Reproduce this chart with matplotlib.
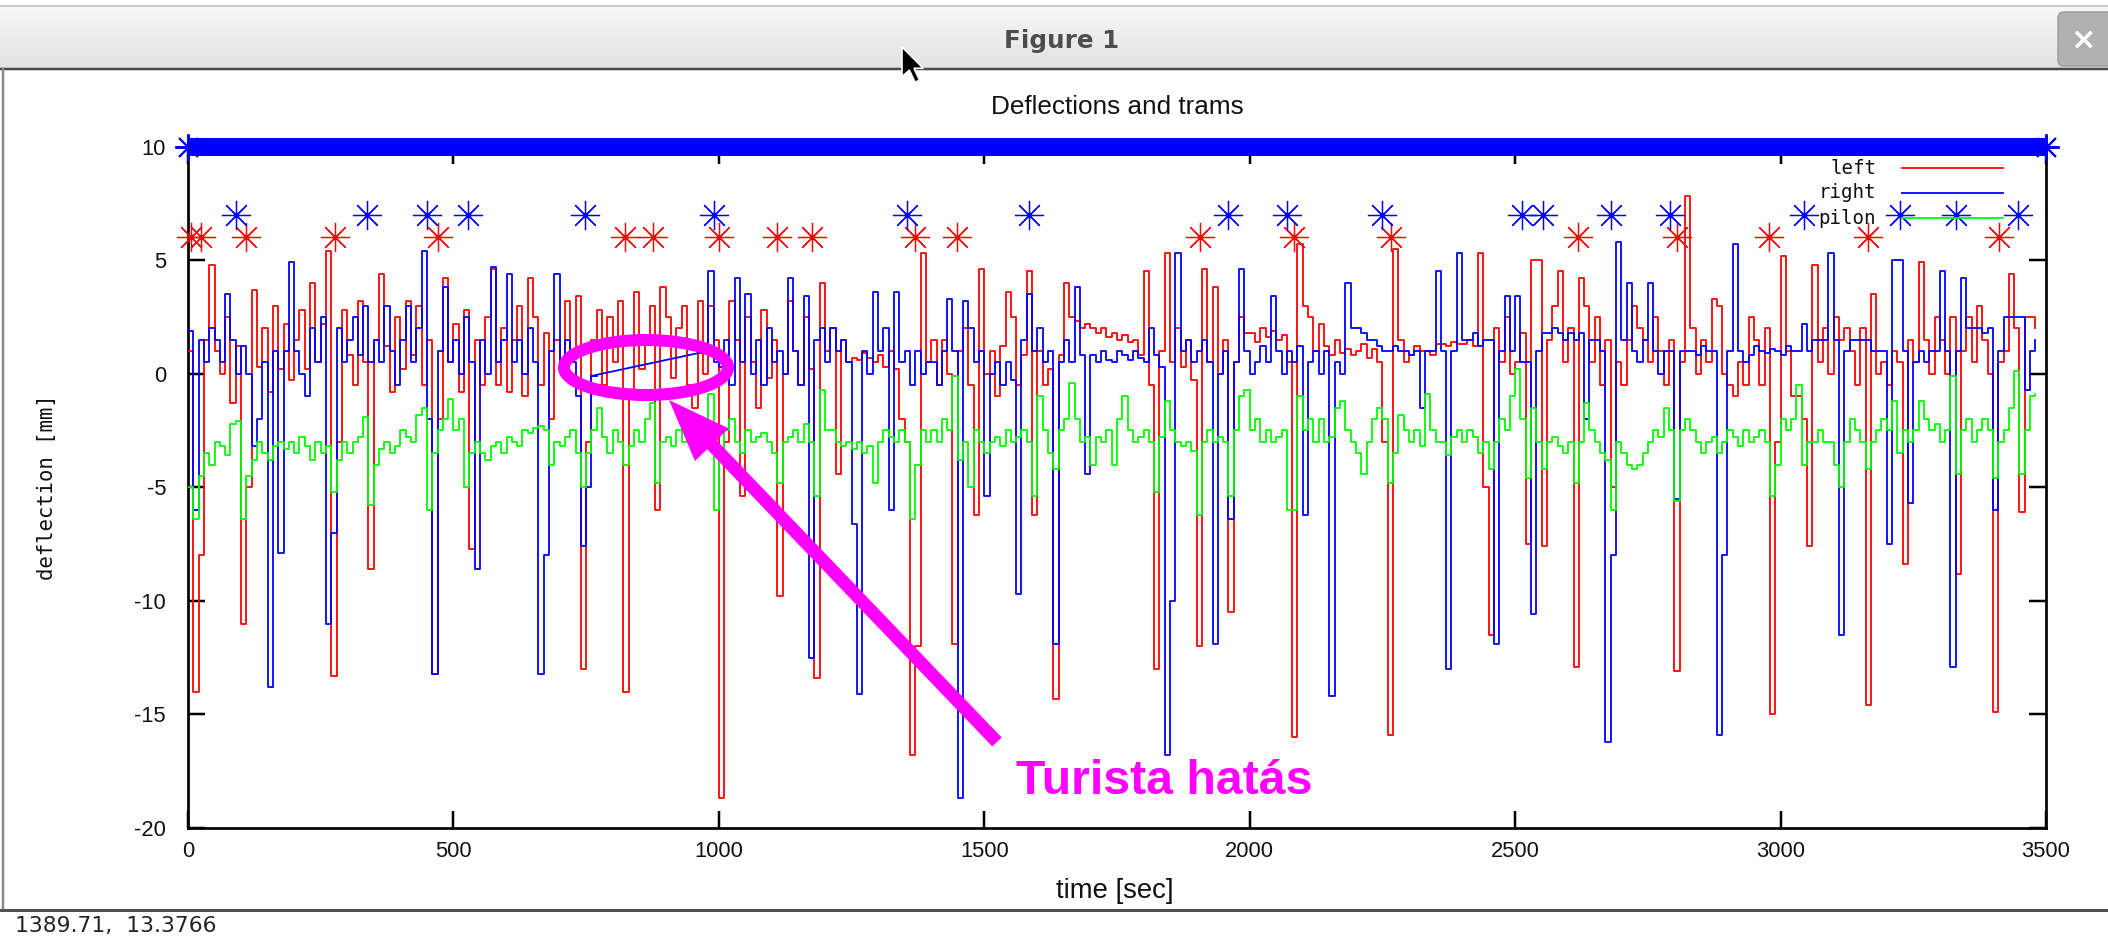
import numpy as np
import matplotlib
matplotlib.use('Agg')
import matplotlib.pyplot as plt
from matplotlib import font_manager
from matplotlib.patches import Ellipse, FancyArrow, Polygon, FancyBboxPatch
from matplotlib.colors import LinearSegmentedColormap

# ---------------- data ----------------
nan = float('nan')
time_s = list(range(0, 3481, 10))

left_mm = [
    1.0, -14.0, -8.0, 1.5, 4.8, 1.0, 0.0, 2.5, -1.3, 1.2,
    -11.0, -5.0, 3.7, 0.3, 2.0, -0.8, 3.0, 0.2, 2.2, -0.3,
    1.5, 2.8, 0.2, 4.0, 0.5, 2.2, 5.4, -13.3, -3.0, 2.8,
    0.8, -0.5, 3.2, 0.5, -8.6, 1.5, 4.4, 1.2, -0.8, 2.5,
    0.2, 3.2, 0.8, 3.0, -0.5, 1.5, -13.2, -2.0, 4.2, 0.5,
    2.2, -0.8, 2.8, -7.7, 1.5, -0.5, 2.5, 4.6, -0.5, 2.0,
    -0.8, 1.5, 3.0, -1.0, 4.2, 2.5, -0.5, 1.8, -2.0, 1.5,
    0.2, 3.2, 1.0, 3.4, -13.0, -3.0, 1.5, 2.8, -0.5, 2.5,
    0.5, 3.2, -14.0, -1.0, 3.6, 0.2, 1.5, 3.0, -6.0, 3.8,
    2.5, -0.2, 2.0, 3.0, -0.5, -1.5, 3.2, 0.0, 3.0, 1.5,
    -18.7, -3.0, 3.2, 1.5, -5.4, 2.5, 0.5, -1.5, 2.8, -0.2,
    1.5, -9.8, 0.0, 3.2, 1.0, -0.5, 2.5, 0.2, -13.4, 4.0,
    1.0, 2.0, -4.4, 1.5, 0.5, 0.7, 0.6, 0.9, 0.7, 0.5,
    0.8, 0.3, 1.0, 0.2, -2.0, -3.0, -16.8, -12.0, 5.3, 0.5,
    1.5, -0.5, 1.5, 0.0, -11.9, 1.0, 2.0, -0.5, -6.2, 4.6,
    0.0, 1.0, -1.0, 1.2, 3.6, 2.5, -0.5, 0.8, 4.5, -6.2,
    1.0, -0.5, 0.2, -14.3, 0.8, 4.0, 2.5, 2.3, 2.0, 2.2,
    2.0, 1.8, 2.0, 1.6, 1.8, 1.5, 1.7, 1.4, 1.5, 0.8,
    4.5, -0.5, -13.0, 1.0, 5.3, 0.5, 2.0, 0.3, 1.5, -0.3,
    -12.0, 4.6, 0.5, 3.8, 0.0, 1.5, -10.5, 0.5, 2.5, 1.8,
    1.8, 1.4, 2.0, 1.6, 1.9, 1.5, 1.7, 0.5, -16.0, 5.7,
    3.0, 2.5, 1.0, 2.2, 1.2, 0.8, 1.5, 0.9, 1.1, 0.8,
    1.0, 1.3, 0.7, 1.1, 0.5, -3.0, -15.9, 5.5, 1.5, 0.5,
    0.8, 1.2, 1.0, 1.0, 0.8, 1.3, 1.3, 1.2, 1.4, 1.3,
    1.3, 1.5, 1.2, 5.3, -5.0, -11.5, 2.0, 0.5, 2.5, 0.0,
    0.5, 1.8, -7.5, 5.0, 5.0, -7.6, 1.5, 3.0, 4.5, 0.5,
    2.0, -12.9, 4.2, 3.0, 0.5, 2.5, -0.5, 1.5, -5.0, 0.5,
    -0.5, 1.5, 3.0, 2.0, 1.5, 0.5, 2.5, 1.0, -0.5, 1.5,
    -13.1, 0.5, 7.8, 2.0, 0.0, 1.5, 0.5, 3.3, 3.0, 0.0,
    -0.5, -1.0, 0.5, -0.5, 2.5, 1.5, -0.5, 2.0, -15.0, -3.0,
    5.2, 1.0, -1.0, -1.0, -2.0, -7.6, 4.8, 0.5, 2.0, 0.0,
    2.5, 1.5, 2.0, 1.0, -0.5, 2.0, -14.6, 3.5, 0.0, 0.5,
    -0.5, 1.0, 0.5, -8.4, 1.5, 0.5, 4.9, 1.5, 0.0, 2.5,
    1.5, 0.0, 2.5, -8.8, 1.0, 2.5, 0.5, 3.0, 1.5, 0.0,
    -14.9, 0.5, 1.0, 4.4, 2.0, -6.1, 2.5, 2.5, 2.0,
]

right_mm = [
    1.9, -6.0, 1.5, 0.5, 2.0, 1.5, 0.5, 3.5, 1.5, 0.0,
    1.2, 0.0, -3.2, -2.0, 0.5, -13.8, 1.0, -7.9, 1.0, 4.9,
    1.0, 0.0, -1.0, 2.0, 0.5, 2.5, -11.0, -7.0, 2.0, 0.5,
    1.5, 2.5, 0.8, 3.0, 0.5, 1.5, 0.5, 3.0, 1.0, -0.5,
    1.5, 3.0, 0.5, 2.0, 5.4, -2.0, -13.2, 1.0, 3.8, 0.5,
    1.5, 0.0, 2.5, 0.5, -8.6, 1.5, 0.0, 4.7, 0.5, 1.5,
    4.4, 0.5, 1.5, 0.0, 2.0, 0.5, -13.2, -8.0, 1.0, 4.4,
    0.5, 1.5, 0.5, -1.0, -7.6, -5.0, -0.1, nan, nan, nan,
    nan, nan, nan, nan, nan, nan, nan, nan, nan, nan,
    nan, nan, nan, nan, nan, nan, 0.9, 1.0, 4.5, 0.5,
    0.3, 1.5, -0.5, 4.2, 0.5, 3.5, 0.0, 1.5, -0.5, 2.0,
    0.5, 1.0, 0.0, 4.2, 1.0, -0.5, 3.4, -12.5, 1.5, 2.0,
    0.5, 2.0, 1.0, 1.5, 0.5, -6.6, -14.1, 1.0, 0.0, 3.6,
    1.0, 2.0, -6.0, 3.6, 0.5, 1.0, -0.5, 1.0, 0.0, 0.5,
    0.5, -0.5, 1.0, 3.3, 1.0, -18.7, 3.2, 2.0, 0.5, 1.0,
    -5.4, 0.0, 0.5, -0.5, 0.5, -0.3, -9.7, 1.5, 3.5, 1.0,
    2.0, 0.5, 1.0, -11.9, 0.5, 1.5, 0.5, 3.8, 0.8, -4.4,
    0.8, 0.5, 1.0, 0.6, 0.5, 1.0, 0.8, 0.6, 1.0, 0.7,
    0.5, 2.0, 0.8, 0.3, -16.8, -10.0, 5.3, 1.0, 1.5, 0.5,
    1.0, 1.5, 0.5, -11.9, 0.0, 1.0, -6.4, 0.5, 4.6, 1.0,
    0.0, 0.5, 1.2, 0.5, 3.4, 1.0, 0.0, 1.0, 0.5, 1.2,
    -6.2, 0.5, 1.0, 0.0, 1.0, -14.2, 0.5, 0.0, 4.0, 2.0,
    2.0, 1.8, 1.5, 1.5, 1.2, 1.0, 1.0, 1.2, 1.0, 1.0,
    0.8, 1.0, -1.5, 1.0, 1.0, 4.5, 1.0, -13.0, 1.0, 5.3,
    1.5, 1.5, 1.8, 1.2, 1.5, 1.5, -11.9, 1.0, 3.4, 1.0,
    3.4, 0.5, 0.5, -10.6, 1.0, 1.8, 1.8, 2.0, 1.8, 1.5,
    1.8, 1.5, 1.8, -2.0, 1.5, 1.5, 1.0, -16.2, -8.0, 5.8,
    1.5, 4.0, 1.0, 0.5, 1.5, 4.0, 1.0, 0.0, 1.0, 1.0,
    -5.5, 1.0, 1.0, 1.0, 0.8, 1.2, 1.0, 1.0, -15.9, -8.0,
    1.0, 5.7, 1.0, 0.5, 0.8, 1.2, 1.0, 0.9, 1.1, 1.0,
    0.8, 1.2, 1.0, 1.0, 2.2, 1.0, 1.5, 1.5, 1.5, 5.3,
    1.5, -11.5, 1.0, 1.5, 1.5, 1.5, 1.5, 1.0, 1.0, 1.0,
    -7.5, 5.0, 5.0, 1.0, -5.7, 0.5, 1.0, 0.5, 1.0, 1.0,
    4.5, 1.0, -12.9, 1.0, 4.2, 2.0, 2.0, 2.0, 1.8, 2.0,
    -6.0, 1.0, 2.5, 2.5, 2.5, 2.5, -0.7, 1.0, 1.5,
]

pilon_mm = [
    -5.0, -6.4, -4.5, -3.5, -4.0, -3.0, -3.2, -3.6, -2.2, -2.1,
    -6.4, -4.5, -3.8, -3.0, -3.5, -3.8, -3.2, -3.0, -3.3, -3.0,
    -3.5, -2.8, -3.2, -3.8, -3.0, -3.5, -3.2, -5.2, -3.8, -3.0,
    -3.5, -3.0, -2.8, -1.9, -5.8, -4.0, -3.3, -3.0, -3.5, -3.2,
    -2.5, -2.8, -3.0, -1.8, -1.5, -6.0, -3.5, -2.5, -2.0, -1.1,
    -2.5, -2.0, -5.0, -3.5, -3.0, -3.5, -3.8, -3.2, -3.0, -3.5,
    -2.8, -3.0, -3.2, -2.5, -2.6, -2.4, -2.3, -2.5, -4.0, -3.0,
    -3.2, -2.8, -2.5, -3.5, -5.0, -3.5, -2.5, -1.5, -2.8, -3.5,
    -2.5, -3.0, -4.0, -3.2, -2.5, -3.0, -2.0, -1.3, -4.8, -3.0,
    -2.8, -3.2, -2.5, -3.0, -2.8, -2.5, -3.0, -2.5, -0.9, -6.0,
    -3.5, -2.5, -2.0, -3.0, -3.5, -2.5, -3.0, -2.8, -2.6, -3.0,
    -3.5, -4.8, -3.0, -2.8, -2.5, -3.0, -2.2, -3.0, -5.4, -0.7,
    -2.5, -2.5, -3.0, -3.2, -3.0, -3.3, -3.0, -3.5, -3.2, -4.8,
    -3.0, -2.5, -2.8, -3.0, -2.5, -3.0, -6.4, -4.0, -2.5, -3.0,
    -2.5, -3.0, -2.0, -2.5, -0.1, -3.8, -3.0, -5.0, -2.5, -3.0,
    -3.5, -3.0, -2.8, -3.2, -2.5, -3.0, -2.8, -2.5, -3.0, -5.4,
    -1.0, -2.5, -3.5, -4.2, -2.5, -2.0, -0.4, -2.0, -3.0, -2.8,
    -4.0, -2.8, -3.0, -2.5, -4.0, -2.0, -1.0, -2.5, -3.0, -2.8,
    -2.5, -3.0, -5.2, -2.8, -1.2, -2.5, -3.0, -3.2, -3.0, -3.4,
    -6.2, -3.0, -2.5, -3.0, -2.8, -3.0, -5.4, -2.5, -1.0, -0.7,
    -2.5, -2.0, -3.0, -2.5, -3.0, -2.8, -2.5, -6.0, -6.0, -1.0,
    -2.5, -2.0, -3.0, -2.0, -3.0, -2.8, -1.5, -1.2, -2.5, -3.0,
    -3.5, -4.4, -3.0, -2.0, -1.5, -2.0, -4.8, -3.5, -1.8, -2.5,
    -3.0, -2.5, -3.2, -0.9, -2.5, -3.0, -3.0, -3.6, -2.8, -2.5,
    -3.0, -2.5, -2.8, -3.5, -3.0, -4.2, -3.0, -2.0, -2.5, -1.0,
    0.2, -2.0, -4.6, -1.5, -3.0, -4.2, -3.0, -2.8, -3.2, -3.5,
    -3.0, -4.8, -3.0, -1.3, -2.5, -3.0, -3.5, -3.8, -6.0, -3.0,
    -3.5, -4.0, -4.2, -4.0, -3.5, -3.0, -2.5, -2.8, -1.5, -2.5,
    -5.6, -2.5, -2.0, -2.5, -3.0, -3.5, -3.0, -2.8, -3.5, -3.0,
    -2.5, -2.8, -3.2, -2.5, -3.0, -2.8, -2.5, -3.0, -5.4, -4.0,
    -2.0, -2.5, -2.0, -0.5, -4.0, -3.0, -3.0, -2.5, -3.0, -3.0,
    -4.0, -5.0, -3.0, -2.0, -2.5, -3.0, -4.2, -3.0, -2.5, -2.0,
    -2.5, -1.2, -3.5, -2.5, -3.0, -2.5, -1.2, -2.0, -2.5, -2.2,
    -3.0, -2.5, -0.1, -4.4, -2.5, -2.0, -3.0, -2.5, -2.0, -2.5,
    -4.6, -3.0, -2.5, -1.5, 0.1, -4.4, -2.5, -1.0, -0.9,
]

# tram passages (stars)
left_tram_t = [5, 25, 109, 276, 471, 823, 876, 1000, 1109, 1176, 1370, 1448,
               1907, 2084, 2267, 2618, 2805, 2979, 3165, 3411]
left_tram_y = [6] * len(left_tram_t)
right_tram_t = [90, 337, 450, 527, 747, 990, 1355, 1584, 1960, 2070, 2250,
                2512, 2552, 2681, 2791, 3044, 3225, 3331, 3448]
right_tram_y = [7] * len(right_tram_t)
band_t = [0, 3500]
band_y = [10, 10]

series_names = ['left', 'right', 'pilon']
series_colors = ['#ff0000', '#0000ff', '#00ff00']
title_text = 'Deflections and trams'
x_label = 'time [sec]'
y_label = 'deflection [mm]'
x_ticks = [0, 500, 1000, 1500, 2000, 2500, 3000, 3500]
y_ticks = [-20, -15, -10, -5, 0, 5, 10]
note_text = 'Turista hatás'
status_text = '1389.71,  13.3766'
window_title = 'Figure 1'

# ---------------- fonts ----------------
names = {f.name for f in font_manager.fontManager.ttflist}
def pick(*cands):
    for c in cands:
        if c in names:
            return c
    return 'DejaVu Sans'
GP = pick('Liberation Sans Narrow', 'Liberation Sans', 'DejaVu Sans')
SANS = pick('Liberation Sans', 'Arial', 'DejaVu Sans')
MONO = pick('DejaVu Sans Mono', 'Liberation Mono')
plt.rcParams['font.family'] = [GP, 'DejaVu Sans']
plt.rcParams['axes.unicode_minus'] = False

W, H, DPI = 2108, 938, 100
PX = 72.0 / DPI
MAG = '#ff00ff'

fig = plt.figure(figsize=(W / DPI, H / DPI), dpi=DPI)
fig.patch.set_facecolor('white')

# ---------------- main axes ----------------
ax_l, ax_r, ax_t, ax_b = 188, 2046, 146.5, 828
ax = fig.add_axes([ax_l / W, 1 - ax_b / H, (ax_r - ax_l) / W, (ax_b - ax_t) / H])
ax.set_xlim(0, 3500)
ax.set_ylim(-20, 10)

t = np.array(time_s, float)
lw = 1.8 * PX
ax.plot(t, left_mm, color=series_colors[0], lw=lw, drawstyle='steps-post', zorder=3)
rv = np.array(right_mm, float)
ax.plot(t, rv, color=series_colors[1], lw=lw, drawstyle='steps-post', zorder=4)
valid = ~np.isnan(rv)
g_start = np.where(valid[:-1] & ~valid[1:])[0]
g_end = np.where(~valid[:-1] & valid[1:])[0] + 1
for a, b in zip(g_start, g_end):
    ax.plot([t[a], t[b]], [rv[a], rv[b]], color=series_colors[1], lw=lw, zorder=4)
ax.plot(t, pilon_mm, color=series_colors[2], lw=lw, drawstyle='steps-post', zorder=5)

star = (8, 2, 0)
for tx, ty, c in [(left_tram_t, left_tram_y, series_colors[0]),
                  (right_tram_t, right_tram_y, series_colors[1])]:
    ax.plot(tx, ty, ls='none', marker=star, ms=21, mew=1.25 * PX, color=c,
            zorder=6, clip_on=False)
    ax.plot(tx, ty, ls='none', marker='o', ms=4, mew=0, color=c, zorder=6,
            clip_on=False)

ax.plot(band_t, band_y, color='#0000ff', lw=18 * PX, solid_capstyle='butt',
        clip_on=False, zorder=7)
ax.plot(band_t, band_y, ls='none', marker=star, ms=19, mew=2 * PX,
        color='#0000ff', clip_on=False, zorder=7)

ax.set_xticks(x_ticks)
ax.set_yticks(y_ticks)
ax.tick_params(direction='in', length=17 * PX, width=2.5 * PX, top=True,
               right=True, labelsize=15, colors='black', labelcolor='#111111')
ax.tick_params(axis='x', pad=13 * PX)
ax.tick_params(axis='y', pad=22 * PX)
for s in ax.spines.values():
    s.set_linewidth(2.7 * PX)
    s.set_zorder(2.6)

ttl = ax.set_title(title_text, y=(ax_b - 107) / (ax_b - ax_t), va='center',
                   pad=0, fontsize=14, color='#111111')
xl = ax.set_xlabel(x_label, fontsize=14, va='center', color='#111111')
ax.xaxis.set_label_coords((1115 - ax_l) / (ax_r - ax_l), (ax_b - 891) / (ax_b - ax_t))
yl = ax.set_ylabel(y_label, fontsize=15, va='center', family=MONO, color='#111111')
ax.yaxis.set_label_coords((47 - ax_l) / (ax_r - ax_l), (ax_b - 487) / (ax_b - ax_t))

# ---------------- overlay in pixel coordinates ----------------
ov = fig.add_axes([0, 0, 1, 1], zorder=10)
ov.set_xlim(0, W)
ov.set_ylim(H, 0)
ov.axis('off')
ov.patch.set_alpha(0)

# title bar
cmap = LinearSegmentedColormap.from_list('tb', ['#f7f7f7', '#e2e2e2'])
ov.imshow(np.linspace(0, 1, 64).reshape(-1, 1), cmap=cmap, aspect='auto',
          extent=[0, W, 69, 6], zorder=0, interpolation='bilinear')
ov.plot([0, W], [6, 6], color='#b8b8b8', lw=1.5 * PX, zorder=1)
ov.plot([0, W], [69.5, 69.5], color='#4a4a4a', lw=2.5 * PX, zorder=1)
ov.plot([2.5, 2.5], [69, 910], color='#8a8a8a', lw=2.5 * PX, zorder=1)
ov.plot([0, W], [910, 910], color='#505050', lw=3 * PX, zorder=1)
ov.add_patch(FancyBboxPatch((2058, 12), 60, 54, boxstyle='round,pad=0,rounding_size=6',
                            fc='#b0b0b0', ec='#9a9a9a', lw=1, zorder=2))
ov.text(2083, 40, '×', color='white', fontsize=22, fontweight='bold',
        ha='center', va='center', family='DejaVu Sans', zorder=3)
wt = ov.text(1062, 41, window_title, color='#4d4d4d', fontsize=16,
             fontweight='bold', ha='center', va='center', family='DejaVu Sans', zorder=3)
# mouse cursor
cur = np.array([(0, 0), (0, 16), (4, 12.5), (7, 19), (9.5, 18), (6.5, 11.5), (11.5, 11.5)])
ov.add_patch(Polygon(cur * 1.85 + np.array([902, 47]), closed=True, fc='black',
                     ec='white', lw=1.2, zorder=4))
# status bar text
st = ov.text(15, 926, status_text, fontsize=14, ha='left', va='center',
             family='DejaVu Sans', color='#222222')

# legend (gnuplot-style, right-aligned labels with line samples)
leg_y = [168, 193, 218]
leg_txt = []
for name, c, yy in zip(series_names, series_colors, leg_y):
    leg_txt.append(ov.text(1876, yy, name, fontsize=14, family=MONO, ha='right',
                           va='center', color='#111111', zorder=5))
    ov.plot([1902, 2003], [yy, yy], color=c, lw=1.8 * PX, zorder=5)

# annotation
ov.add_patch(Ellipse((646, 367.5), 164, 55, fill=False, ec=MAG, lw=12 * PX, zorder=6))
ov.add_patch(FancyArrow(997, 742, 669 - 997, 400 - 742, width=13, head_width=47,
                        head_length=62, length_includes_head=True, fc=MAG, ec='none',
                        zorder=6))
nt = ov.text(1016, 794, note_text, fontsize=34, fontweight='bold', family=SANS,
             color=MAG, ha='left', va='baseline', zorder=6)

# ---------------- fit text widths to the reference ----------------
fig.canvas.draw()
rend = fig.canvas.get_renderer()
def fit(txt, target, vertical=False):
    bb = txt.get_window_extent(renderer=rend)
    size = bb.height if vertical else bb.width
    if size > 0:
        txt.set_fontsize(txt.get_fontsize() * target / size)
fit(ttl, 255)
fit(xl, 118)
fit(yl, 188, vertical=True)
fit(wt, 115)
fit(st, 202)
fit(nt, 296)
bb = leg_txt[1].get_window_extent(renderer=rend)
if bb.width > 0:
    f = leg_txt[1].get_fontsize() * 58 / bb.width
    for tx in leg_txt:
        tx.set_fontsize(f)
# tick labels: "3500" about 48 px wide in the reference
xtl = ax.get_xticklabels()
bb = xtl[-1].get_window_extent(renderer=rend)
if bb.width > 0:
    f = xtl[-1].get_fontsize() * 49 / bb.width
    ax.tick_params(labelsize=f)

fig.savefig('out.png', dpi=DPI, facecolor='white')
